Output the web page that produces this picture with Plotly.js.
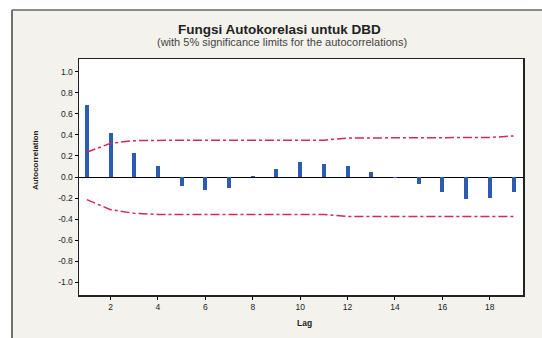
<!DOCTYPE html>
<html>
<head>
<meta charset="utf-8">
<script src="https://cdn.plot.ly/plotly-3.0.1.min.js"></script>
<style>html,body{margin:0;padding:0;background:#fff;}</style>
</head>
<body>
<div id="chart" style="width:542px;height:338px;"></div>
<script>
var lags = [1,2,3,4,5,6,7,8,9,10,11,12,13,14,15,16,17,18,19];
var acf = [0.68,0.42,0.23,0.10,-0.085,-0.12,-0.10,0.01,0.08,0.14,0.12,0.10,0.045,-0.005,-0.065,-0.14,-0.21,-0.20,-0.14];
var upperLimit = [0.235,0.32,0.345,0.35,0.35,0.35,0.35,0.35,0.35,0.35,0.35,0.37,0.37,0.37,0.37,0.37,0.37,0.375,0.39];
var lowerLimit = [-0.215,-0.31,-0.345,-0.355,-0.355,-0.355,-0.355,-0.355,-0.355,-0.355,-0.355,-0.375,-0.375,-0.375,-0.375,-0.375,-0.375,-0.375,-0.375];
var xTicks = [2,4,6,8,10,12,14,16,18];
var yTicks = [-1.0,-0.8,-0.6,-0.4,-0.2,0.0,0.2,0.4,0.6,0.8,1.0];

var limColor = '#d22a58';
var traces = [
  {type:'bar', x:lags, y:acf, width:0.17, marker:{color:'#2b5cb4', line:{width:0}}, hoverinfo:'x+y'},
  {type:'scatter', mode:'lines', x:lags, y:upperLimit, line:{color:limColor, width:1.5, dash:'dashdot'}},
  {type:'scatter', mode:'lines', x:lags, y:lowerLimit, line:{color:limColor, width:1.5, dash:'dashdot'}}
];

var tickFont = {family:'Liberation Sans, Arial, sans-serif', size:8.5, color:'#222'};
var layout = {
  width:542, height:338,
  margin:{l:79, r:19, t:59, b:43, pad:0},
  paper_bgcolor:'#f4f2ed',
  plot_bgcolor:'#ffffff',
  showlegend:false,
  bargap:0,
  xaxis:{
    range:[0.67,19.4], tickvals:xTicks, ticktext:xTicks.map(String),
    ticks:'outside', ticklen:3, tickwidth:1, tickcolor:'#000',
    showgrid:false, zeroline:false,
    showline:true, linecolor:'#222', linewidth:1.5, mirror:true,
    tickfont:tickFont
  },
  yaxis:{
    range:[-1.12,1.12], tickvals:yTicks, ticktext:yTicks.map(function(v){return v.toFixed(1);}),
    ticks:'outside', ticklen:3, tickwidth:1, tickcolor:'#000',
    showgrid:false, zeroline:true, zerolinecolor:'#000', zerolinewidth:1,
    showline:true, linecolor:'#222', linewidth:1.5, mirror:true,
    tickfont:tickFont
  },
  shapes:[
    {type:'rect', xref:'paper', yref:'paper', x0:-0.3, x1:-0.1509, y0:-0.4, y1:1.4, fillcolor:'#ffffff', line:{width:0}},
    {type:'rect', xref:'paper', yref:'paper', x0:-0.3, x1:1.2, y0:1.2076, y1:1.4, fillcolor:'#ffffff', line:{width:0}},
    {type:'line', xref:'paper', yref:'paper', x0:-0.1509, x1:-0.1509, y0:1.2076, y1:-0.4, line:{color:'#444', width:1.5}},
    {type:'line', xref:'paper', yref:'paper', x0:-0.1509, x1:1.2, y0:1.2076, y1:1.2076, line:{color:'#666', width:1.5}}
  ],
  annotations:[
    {text:'<b>Fungsi Autokorelasi untuk DBD</b>', xref:'paper', yref:'paper', x:0.4527, y:1.1229, xanchor:'center', yanchor:'middle', showarrow:false,
     font:{family:'Liberation Sans, Arial, sans-serif', size:13.5, color:'#222'}},
    {text:'(with 5% significance limits for the autocorrelations)', xref:'paper', yref:'paper', x:0.457, y:1.07, xanchor:'center', yanchor:'middle', showarrow:false,
     font:{family:'Liberation Sans, Arial, sans-serif', size:11, color:'#444'}},
    {text:'<b>Autocorrelation</b>', xref:'paper', yref:'paper', x:-0.099, y:0.572, xanchor:'center', yanchor:'middle', textangle:-90, showarrow:false,
     font:{family:'Liberation Sans, Arial, sans-serif', size:8, color:'#222'}},
    {text:'<b>Lag</b>', xref:'paper', yref:'paper', x:0.509, y:-0.119, xanchor:'center', yanchor:'middle', showarrow:false,
     font:{family:'Liberation Sans, Arial, sans-serif', size:8.5, color:'#222'}}
  ]
};
Plotly.newPlot('chart', traces, layout, {displayModeBar:false, staticPlot:true});
</script>
</body>
</html>
